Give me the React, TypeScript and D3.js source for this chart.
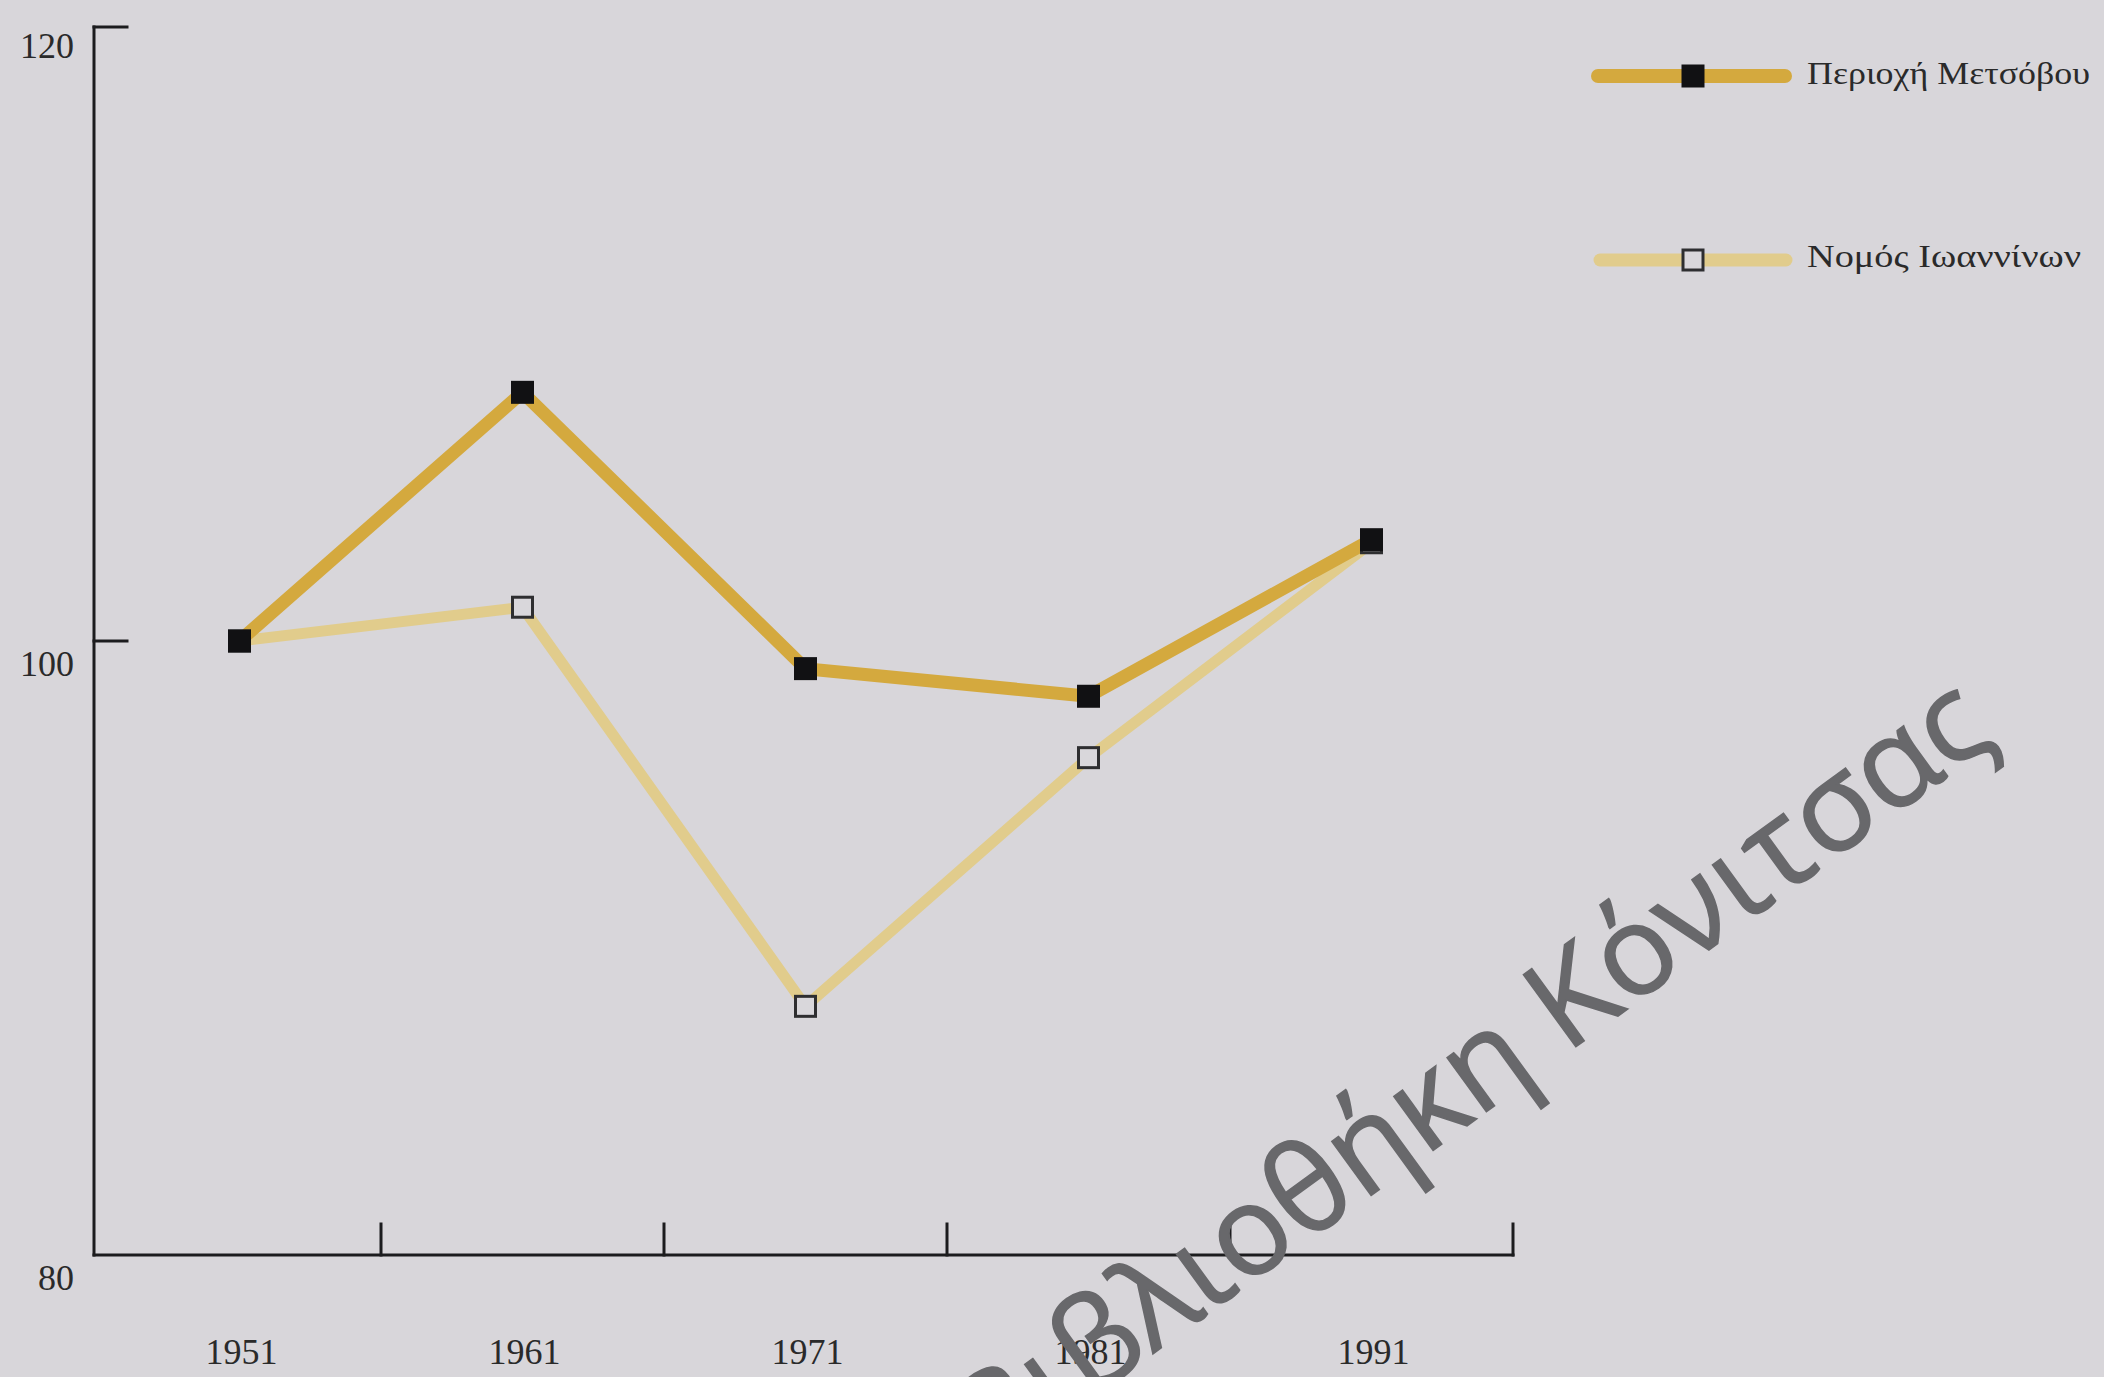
import React from 'react';
import * as d3 from 'd3';

const years = ['1951', '1961', '1971', '1981', '1991'];
const metsovo = [100, 108.1, 99.1, 98.2, 103.3];
const ioannina = [100, 101.1, 88.1, 96.2, 103.2];
const yTicks = [80, 100, 120];
const seriesNames = ['Περιοχή Μετσόβου', 'Νομός Ιωαννίνων'];
const watermark = 'Βιβλιοθήκη Κόνιτσας';

const W = 2104;
const H = 1377;
const BG = '#d8d6da';
const C_MET = '#d4a93e';
const C_IOA = '#e1cc8c';
const AXIS = '#1c1c1e';

export default function App() {
  const x = d3.scaleBand<string>().domain(years).range([98, 1513]).padding(0);
  const y = d3.scaleLinear().domain([80, 120]).range([1255, 27]);
  const cx = (yr: string) => (x(yr) as number) + x.bandwidth() / 2;

  const line = d3
    .line<number>()
    .x((_, i) => cx(years[i]))
    .y((v) => y(v));

  const axisX0 = 94;
  const tickBounds = years.slice(1).map((yr) => x(yr) as number).concat([x.range()[1]]);
  const serif = '"Liberation Serif", "Times New Roman", serif';

  return (
    <svg
      width={W}
      height={H}
      viewBox={`0 0 ${W} ${H}`}
      style={{ position: 'absolute', left: 0, top: 0, display: 'block' }}
    >
      <rect x={0} y={0} width={W} height={H} fill={BG} />

      {/* axes */}
      <g stroke={AXIS} strokeWidth={3} fill="none" strokeLinecap="square">
        <line x1={axisX0} y1={y(120)} x2={axisX0} y2={y(80)} />
        <line x1={axisX0} y1={y(80)} x2={x.range()[1]} y2={y(80)} />
        {yTicks
          .filter((t) => t !== 80)
          .map((t) => (
            <line key={t} x1={axisX0} y1={y(t)} x2={axisX0 + 33} y2={y(t)} />
          ))}
        {tickBounds.map((tx, i) => (
          <line key={i} x1={tx} y1={y(80)} x2={tx} y2={y(80) - 31} />
        ))}
      </g>

      {/* y labels */}
      {yTicks.map((t) => (
        <text
          key={t}
          x={74}
          y={y(t) + (t === 120 ? 31 : 35)}
          textAnchor="end"
          fontFamily={serif}
          fontSize={36}
          fill="#2a2a2a"
        >
          {t}
        </text>
      ))}

      {/* x labels */}
      {years.map((yr) => (
        <text
          key={yr}
          x={cx(yr) + 2}
          y={1364}
          textAnchor="middle"
          fontFamily={serif}
          fontSize={36}
          fill="#2a2a2a"
        >
          {yr}
        </text>
      ))}

      {/* series */}
      <path d={line(ioannina) || ''} fill="none" stroke={C_IOA} strokeWidth={11} strokeLinejoin="miter" />
      <path d={line(metsovo) || ''} fill="none" stroke={C_MET} strokeWidth={13} strokeLinejoin="miter" />

      {ioannina.map((v, i) => (
        <rect
          key={'i' + i}
          x={cx(years[i]) - 10}
          y={y(v) - 10}
          width={20}
          height={20}
          fill="#d9d7db"
          stroke="#2e2e30"
          strokeWidth={3}
        />
      ))}
      {metsovo.map((v, i) => (
        <rect
          key={'m' + i}
          x={cx(years[i]) - 11.5}
          y={y(v) - 11.5}
          width={23}
          height={23}
          fill="#111113"
        />
      ))}

      {/* legend */}
      <line x1={1598} y1={76} x2={1785} y2={76} stroke={C_MET} strokeWidth={14} strokeLinecap="round" />
      <rect x={1693 - 11.5} y={76 - 11.5} width={23} height={23} fill="#111113" />
      <text x={1807} y={84} fontFamily={serif} fontSize={31} fill="#2a2a2a" textLength={283} lengthAdjust="spacingAndGlyphs">
        {seriesNames[0]}
      </text>

      <line x1={1600} y1={260} x2={1786} y2={260} stroke={C_IOA} strokeWidth={13} strokeLinecap="round" />
      <rect x={1693 - 10} y={260 - 10} width={20} height={20} fill="#d9d7db" stroke="#2e2e30" strokeWidth={3} />
      <text x={1807} y={267} fontFamily={serif} fontSize={31} fill="#2a2a2a" textLength={274} lengthAdjust="spacingAndGlyphs">
        {seriesNames[1]}
      </text>

      {/* watermark */}
      <text
        x={1998}
        y={740}
        textAnchor="end"
        transform="rotate(-36 1998 740)"
        fontFamily='"Open Sans", "Noto Sans", sans-serif'
        fontSize={125}
        fill="#68686b"
        stroke="#68686b"
        strokeWidth={1.5}
      >
        {watermark}
      </text>
    </svg>
  );
}
